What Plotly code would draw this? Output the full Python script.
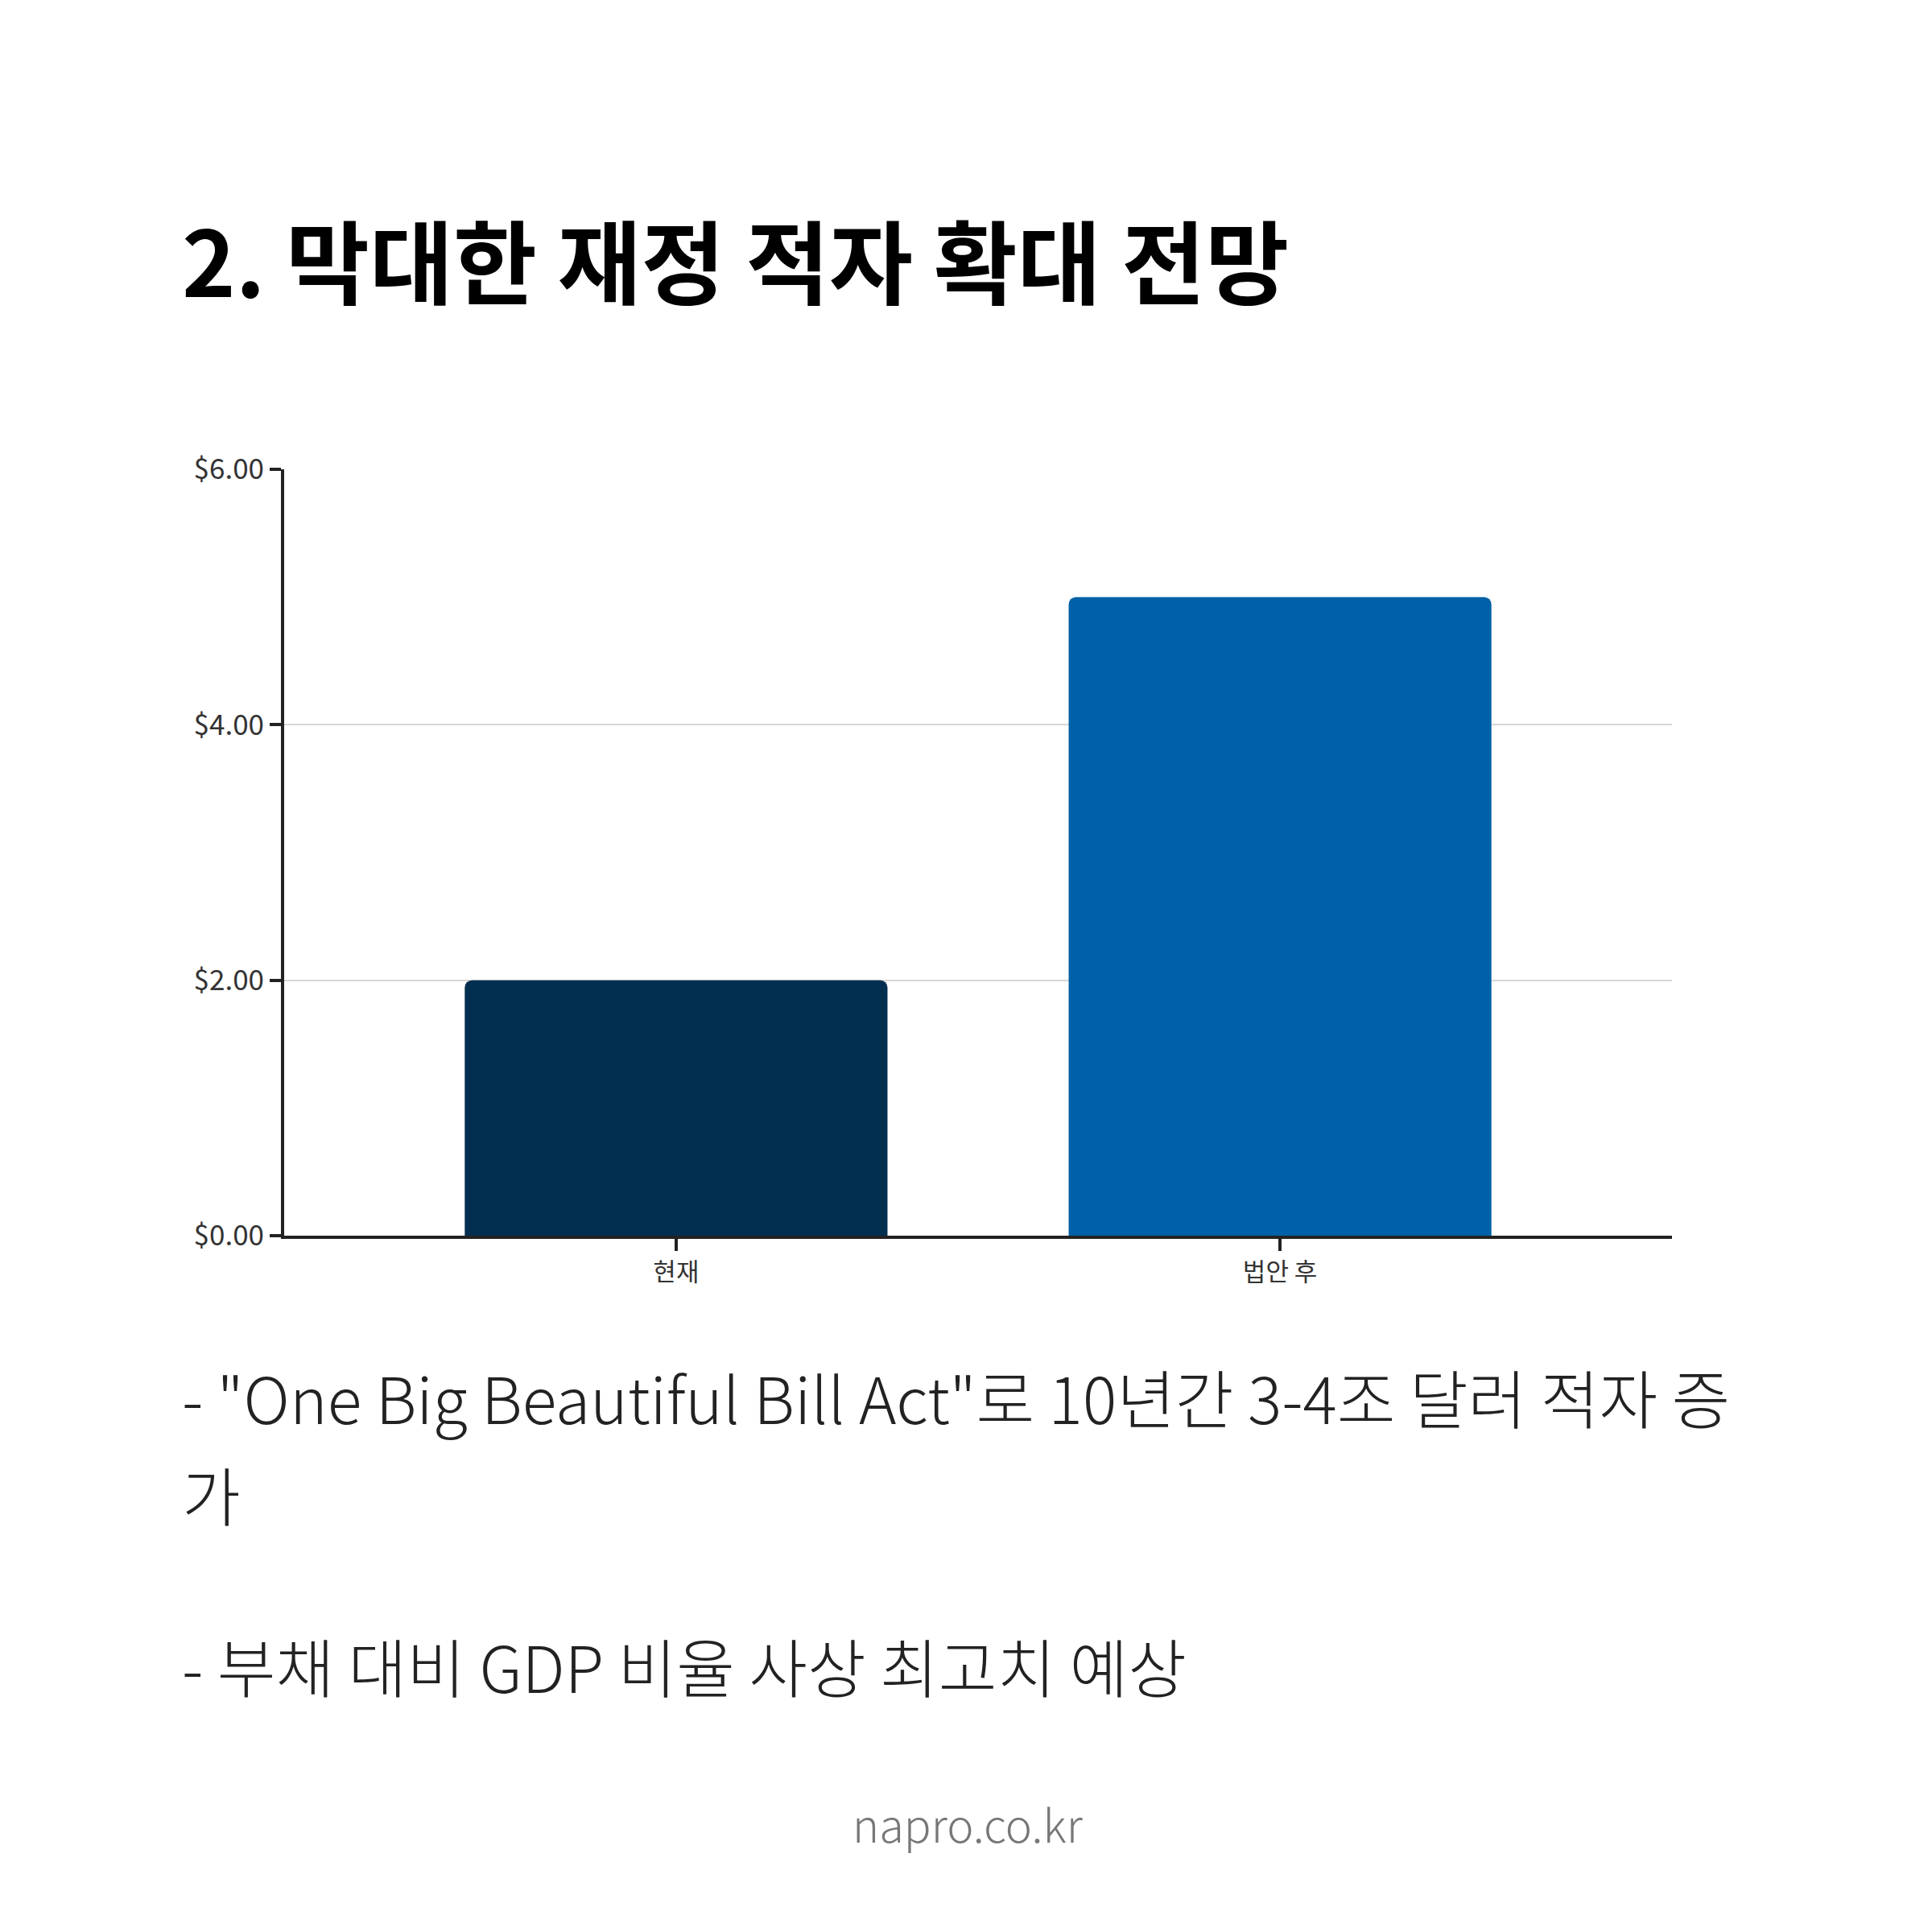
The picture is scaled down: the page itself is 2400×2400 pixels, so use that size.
import plotly.graph_objects as go

categories = ["현재", "법안 후"]
values = [2.0, 5.0]
bar_colors = ["#022E50", "#0061A8"]
y_ticks = [0, 2, 4, 6]

title_text = "2. 막대한 재정 적자 확대 전망"
bullet1_line1 = '- "One Big Beautiful Bill Act"로 10년간 3-4조 달러 적자 증'
bullet1_line2 = "가"
bullet2 = "- 부채 대비 GDP 비율 사상 최고치 예상"
footer = "napro.co.kr"

W = H = 2400
L, R, T, B = 345, 2069, 575, 1527
FONT = "Noto Sans CJK KR"

def px(x):
    return (x - L) / (R - L)

def py(y):
    return (B - y) / (B - T)

fig = go.Figure(
    go.Bar(
        x=categories,
        y=values,
        width=0.7,
        marker=dict(color=bar_colors, cornerradius=9, line=dict(width=0)),
        hoverinfo="skip",
    )
)

fig.update_layout(
    width=W,
    height=H,
    margin=dict(l=L, r=W - R, t=T, b=H - B),
    paper_bgcolor="white",
    plot_bgcolor="white",
    showlegend=False,
    font=dict(family=FONT, color="#333333"),
)

fig.update_xaxes(
    type="category",
    range=[-0.649, 1.649],
    showline=True,
    linecolor="#222222",
    linewidth=4,
    ticks="outside",
    ticklen=15,
    tickwidth=4,
    tickcolor="#222222",
    showgrid=False,
    tickfont=dict(size=31, family=FONT, color="#333333"),
)

fig.update_yaxes(
    range=[0, 6],
    tickvals=y_ticks,
    tickformat="$.2f",
    showline=True,
    linecolor="#222222",
    linewidth=4,
    ticks="outside",
    ticklen=14,
    tickwidth=4,
    tickcolor="#222222",
    showgrid=True,
    gridcolor="#d6d6d6",
    gridwidth=2,
    zeroline=False,
    tickfont=dict(size=35, family=FONT, color="#333333"),
)

def add_text(text, x, y, size, color, weight=400, xanchor="left"):
    fig.add_annotation(
        text=text,
        xref="paper",
        yref="paper",
        x=px(x),
        y=py(y),
        xanchor=xanchor,
        yanchor="middle",
        showarrow=False,
        font=dict(family=FONT, size=size, color=color, weight=weight),
    )

add_text(title_text, 216, 312, 113, "#000000", weight=700)
add_text(bullet1_line1, 216, 1726, 79, "#222222", weight=300)
add_text(bullet1_line2, 216, 1847, 79, "#222222", weight=300)
add_text(bullet2, 216, 2060, 79, "#222222", weight=300)
add_text(footer, 1194, 2256, 56, "#777777", weight=300, xanchor="center")

fig.write_html("out.html")
